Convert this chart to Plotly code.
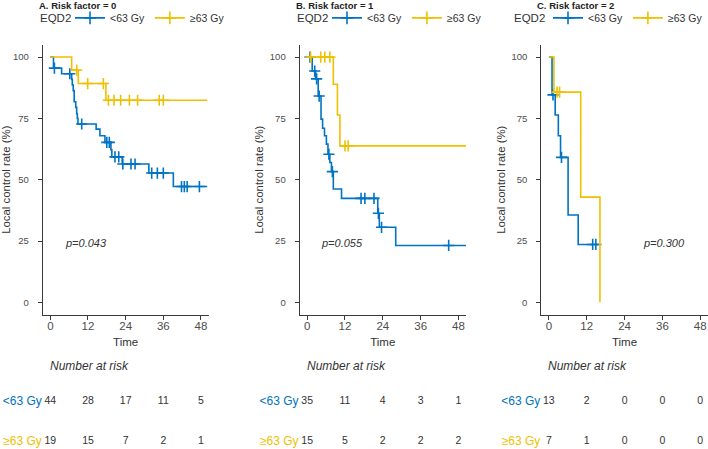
import plotly.graph_objects as go

# ---------------- data ----------------
TIME_TICKS = [0, 12, 24, 36, 48]
SURV_TICKS = [0, 25, 50, 75, 100]
GROUPS = ["<63 Gy", "≥63 Gy"]
LEGEND_TITLE = "EQD2"
PANEL_TITLES = ["A. Risk factor = 0", "B. Risk factor = 1", "C. Risk factor = 2"]
P_VALUES = ["p=0.043", "p=0.055", "p=0.300"]
P_POS_TIME = [11.4, 11.1, 36.6]
P_POS_SURV = [24, 24, 24]

# Panel A (risk factor = 0)
a_low_time = [0, 1.0, 3.6, 6.8, 7.0, 7.3, 7.6, 8.1, 8.4, 8.6, 8.8, 14.6, 15.8, 17.4, 19.3, 19.6, 22.9, 31.4, 39.2, 50.0]
a_low_surv = [100, 95.5, 93.2, 90.9, 88.6, 86.3, 81.8, 79.5, 76.9, 75.0, 72.7, 70.6, 67.9, 65.2, 62.2, 59.3, 56.4, 52.7, 47.2, 47.2]
a_low_censor = [1.3, 6.2, 10.0, 18.0, 18.8, 20.6, 21.8, 23.1, 25.7, 27.0, 32.3, 34.1, 36.0, 41.8, 42.7, 43.6, 47.5]
a_high_time = [0, 6.8, 8.9, 17.7, 50.0]
a_high_surv = [100, 94.7, 89.2, 82.4, 82.4]
a_high_censor = [8.4, 11.9, 16.9, 18.5, 20.3, 22.4, 25.2, 27.8, 34.7, 36.0]
risk_a_low = [44, 28, 17, 11, 5]
risk_a_high = [19, 15, 7, 2, 1]

# Panel B (risk factor = 1)
b_low_time = [0, 1.6, 2.7, 3.5, 4.4, 4.9, 5.5, 6.1, 6.6, 7.2, 7.7, 8.3, 10.9, 22.4, 22.9, 28.1, 50.4]
b_low_surv = [100, 94.3, 91.1, 84.1, 74.7, 71.0, 67.9, 64.5, 60.4, 57.0, 53.3, 46.2, 42.4, 36.3, 30.6, 23.2, 23.2]
b_low_censor = [0.9, 2.4, 3.0, 3.8, 6.9, 8.0, 17.1, 18.3, 21.2, 22.6, 23.6, 44.9]
b_high_time = [0, 8.3, 9.6, 10.4, 50.4]
b_high_surv = [100, 88.9, 76.4, 63.8, 63.8]
b_high_censor = [1.1, 4.3, 5.6, 7.2, 12.0, 13.0]
risk_b_low = [35, 11, 4, 3, 1]
risk_b_high = [15, 5, 2, 2, 2]

# Panel C (risk factor = 2)
c_low_time = [0, 1.0, 2.0, 3.0, 3.7, 6.1, 9.3, 15.7]
c_low_surv = [100, 84.6, 76.4, 67.9, 59.1, 35.6, 23.6, 23.6]
c_low_censor = [1.3, 4.0, 13.9, 14.9]
c_high_time = [0, 1.6, 10.1, 16.2]
c_high_surv = [100, 85.7, 42.9, 0]
c_high_censor = [2.6, 3.4]
risk_c_low = [13, 2, 0, 0, 0]
risk_c_high = [7, 1, 0, 0, 0]

# ---------------- style ----------------
BLUE = "#0073C2"
YELLOW = "#EFC000"
COLORS = [BLUE, YELLOW]
FONT = "Liberation Sans, Arial, sans-serif"
AXIS_COLOR = "#3a3a3a"
TICK_TEXT = "#4d4d4d"
W, H = 708, 449

panels = [
    dict(curves=[(a_low_time, a_low_surv, a_low_censor), (a_high_time, a_high_surv, a_high_censor)],
         risk=[risk_a_low, risk_a_high], xdom=(42.8, 208.5), leg_title_x=38, leg_x=(70, "left")),
    dict(curves=[(b_low_time, b_low_surv, b_low_censor), (b_high_time, b_high_surv, b_high_censor)],
         risk=[risk_b_low, risk_b_high], xdom=(299.6, 466.0), leg_title_x=295, leg_x=(327, "left")),
    dict(curves=[(c_low_time, c_low_surv, c_low_censor), (c_high_time, c_high_surv, c_high_censor)],
         risk=[risk_c_low, risk_c_high], xdom=(541.3, 707.8), leg_title_x=512, leg_x=(708, "right")),
]


def step_value(times, surv, t):
    idx = max(i for i, ti in enumerate(times) if ti <= t)
    return surv[idx]


def py(px):
    return 1 - px / H


fig = go.Figure()
layout = dict(
    width=W, height=H,
    margin=dict(l=0, r=0, t=0, b=0),
    paper_bgcolor="white", plot_bgcolor="white",
    font=dict(family=FONT, color="#333333"),
    annotations=[],
)

MAIN_Y = (py(315), py(44))
TABLE_Y = (py(448), py(396))
LEGEND_ROW_Y = py(17)

for k, p in enumerate(panels):
    n = k + 1
    xa = "x" if n == 1 else f"x{n}"
    ya = "y" if n == 1 else f"y{n}"
    xt = f"x{n + 3}"
    yt = f"y{n + 3}"
    leg = "legend" if n == 1 else f"legend{n}"

    for g, (times, surv, cens) in enumerate(p["curves"]):
        fig.add_trace(go.Scatter(
            x=times, y=surv, mode="lines", line=dict(color=COLORS[g], width=1.6, shape="hv"),
            xaxis=xa, yaxis=ya, showlegend=False, hoverinfo="skip"))
        fig.add_trace(go.Scatter(
            x=cens, y=[step_value(times, surv, c) for c in cens], mode="markers",
            marker=dict(symbol="cross-thin", size=8, line=dict(color=COLORS[g], width=1.6)),
            xaxis=xa, yaxis=ya, showlegend=False, hoverinfo="skip"))
        # legend entry
        fig.add_trace(go.Scatter(
            x=[None], y=[None], mode="lines+markers", name=GROUPS[g],
            line=dict(color=COLORS[g], width=1.6),
            marker=dict(symbol="cross-thin", size=9, line=dict(color=COLORS[g], width=1.6)),
            xaxis=xa, yaxis=ya, legend=leg, showlegend=True))

    # risk table
    for g in range(2):
        fig.add_trace(go.Scatter(
            x=TIME_TICKS, y=[1 - g] * len(TIME_TICKS), text=[str(v) for v in p["risk"][g]],
            mode="text", textfont=dict(size=10.5, color="#333333", family=FONT),
            xaxis=xt, yaxis=yt, showlegend=False, hoverinfo="skip", cliponaxis=False))

    xdom = (p["xdom"][0] / W, p["xdom"][1] / W)
    layout["xaxis" if n == 1 else f"xaxis{n}"] = dict(
        domain=xdom, anchor=ya, range=[-2.4, 50.4], tickvals=TIME_TICKS,
        showline=True, linecolor=AXIS_COLOR, linewidth=1, ticks="outside", ticklen=4,
        tickcolor=AXIS_COLOR, showgrid=False, zeroline=False, ticklabelstandoff=-3,
        tickfont=dict(size=11.5, color=TICK_TEXT),
        title=dict(text="Time", font=dict(size=11.5, color="#333333"), standoff=6))
    layout["yaxis" if n == 1 else f"yaxis{n}"] = dict(
        domain=MAIN_Y, anchor=xa, range=[-5, 105], tickvals=SURV_TICKS,
        showline=True, linecolor=AXIS_COLOR, linewidth=1, ticks="outside", ticklen=4,
        tickcolor=AXIS_COLOR, showgrid=False, zeroline=False, ticklabelstandoff=7,
        tickfont=dict(size=9.5, color=TICK_TEXT),
        title=dict(text="Local control rate (%)", font=dict(size=11.4, color="#333333"), standoff=3))
    layout[f"xaxis{n + 3}"] = dict(
        domain=xdom, anchor=yt, range=[-2.4, 50.4], visible=False)
    layout[f"yaxis{n + 3}"] = dict(
        domain=TABLE_Y, anchor=xt, range=[-0.15, 1.15], tickvals=[1, 0],
        ticktext=[f"<span style='color:{COLORS[g]}'>{GROUPS[g]}</span>" for g in range(2)],
        tickfont=dict(size=12), showline=False, showgrid=False, zeroline=False, ticks="",
        ticklen=0, ticklabeloverflow="allow")

    layout[leg] = dict(
        orientation="h", x=p["leg_x"][0] / W, xanchor=p["leg_x"][1], y=LEGEND_ROW_Y, yanchor="middle",
        font=dict(size=10.5, color="#333333"), bgcolor="rgba(0,0,0,0)", borderwidth=0,
        itemwidth=30, tracegroupgap=0, valign="middle")
    # legend title
    layout["annotations"].append(dict(
        text=LEGEND_TITLE, xref="paper", yref="paper", x=p["leg_title_x"] / W, y=LEGEND_ROW_Y,
        xanchor="left", yanchor="middle", showarrow=False, font=dict(size=11.5, color="#333333")))

    # panel title
    layout["annotations"].append(dict(
        text=f"<b>{PANEL_TITLES[k]}</b>", xref="paper", yref="paper",
        x=(p["xdom"][0] - 6) / W, y=py(5), xanchor="left", yanchor="middle",
        showarrow=False, font=dict(size=9.5, color="#222222")))
    # p-value
    layout["annotations"].append(dict(
        text=f"<i>{P_VALUES[k]}</i>", xref=xa, yref=ya, x=P_POS_TIME[k], y=P_POS_SURV[k],
        showarrow=False, font=dict(size=11, color="#333333")))
    # Number at risk
    layout["annotations"].append(dict(
        text="<i>Number at risk</i>", xref="paper", yref="paper",
        x=(p["xdom"][0] + 5) / W, y=py(367), xanchor="left", yanchor="middle",
        showarrow=False, font=dict(size=12, color="#333333")))

fig.update_layout(**layout)
fig.write_html("out.html", config={"displayModeBar": False},
               post_script="document.body.style.margin='0px';")
